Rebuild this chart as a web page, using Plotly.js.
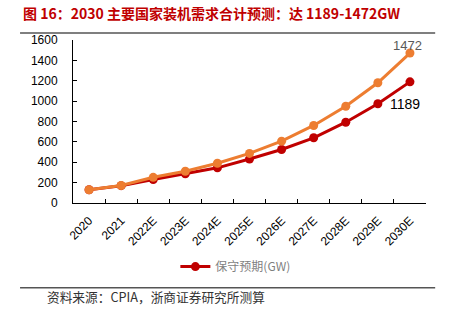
<!DOCTYPE html>
<html>
<head>
<meta charset="utf-8">
<script src="https://cdn.plot.ly/plotly-3.0.1.min.js"></script>
<style>html,body{margin:0;padding:0;background:#fff;}#chart{width:450px;height:321px;}</style>
</head>
<body>
<div id="chart"></div>
<script>
const categories = ["2020","2021","2022E","2023E","2024E","2025E","2026E","2027E","2028E","2029E","2030E"];
const optimistic = [130, 172, 252, 312, 390, 487, 607, 761, 950, 1180, 1472];
const conservative = [130, 170, 230, 287, 345, 432, 525, 640, 793, 974, 1189];
const conservativeName = "保守预期(GW)";
const titleText = "图 16：2030 主要国家装机需求合计预测：达 1189-1472GW";
const sourceText = "资料来源：CPIA，浙商证券研究所测算";

const last = categories.length - 1;

const traces = [
  {
    x: categories, y: conservative, name: conservativeName, type: "scatter", mode: "lines+markers",
    line: {color: "#C00000", width: 3}, marker: {color: "#C00000", size: 9},
    showlegend: true, cliponaxis: false
  },
  {
    x: categories, y: optimistic, name: "乐观预期(GW)", type: "scatter", mode: "lines+markers",
    line: {color: "#ED7D31", width: 3}, marker: {color: "#ED7D31", size: 9},
    showlegend: false, cliponaxis: false
  }
];

const layout = {
  width: 450, height: 321,
  margin: {l: 73, r: 24, t: 40, b: 118},
  paper_bgcolor: "#fff", plot_bgcolor: "#fff",
  showlegend: true,
  legend: {
    orientation: "h", x: 0.29, xanchor: "left", y: -0.39, yanchor: "middle",
    font: {family: "Noto Sans CJK SC, sans-serif", size: 12, color: "#7f7f7f"},
    bgcolor: "rgba(0,0,0,0)"
  },
  xaxis: {
    type: "category", showgrid: false, zeroline: false,
    showline: true, linecolor: "#000", linewidth: 1,
    ticks: "inside", ticklen: 4, tickcolor: "#000", tickson: "boundaries",
    tickangle: -45, ticklabelstandoff: 5,
    tickfont: {family: "Liberation Sans, Arial, sans-serif", size: 12, color: "#000"},
    range: [-0.5, last + 0.5]
  },
  yaxis: {
    range: [0, 1600], dtick: 200, showgrid: false, zeroline: false,
    showline: true, linecolor: "#000", linewidth: 1,
    ticks: "inside", ticklen: 4, tickcolor: "#000", ticklabelstandoff: 12,
    tickfont: {family: "Liberation Sans, Arial, sans-serif", size: 12, color: "#000"}
  },
  annotations: [
    {xref: "paper", yref: "paper", x: -0.148, y: 1.168, xanchor: "left", yanchor: "middle",
     text: "<b>" + titleText + "</b>", showarrow: false,
     font: {family: "Noto Sans CJK SC, sans-serif", size: 14, color: "#C00000"}},
    {xref: "paper", yref: "paper", x: -0.078, y: -0.575, xanchor: "left", yanchor: "middle",
     text: sourceText, showarrow: false,
     font: {family: "Noto Sans CJK SC, sans-serif", size: 12.7, color: "#333"}},
    {x: categories[last], y: optimistic[last], xref: "x", yref: "y",
     text: String(optimistic[last]), showarrow: false,
     xanchor: "center", yanchor: "middle", xshift: -2, yshift: 8,
     font: {family: "Liberation Sans, Arial, sans-serif", size: 13, color: "#595959"}},
    {x: categories[last], y: conservative[last], xref: "x", yref: "y",
     text: String(conservative[last]), showarrow: false,
     xanchor: "center", yanchor: "middle", xshift: -5, yshift: -22,
     font: {family: "Liberation Sans, Arial, sans-serif", size: 14, color: "#000"}}
  ],
  shapes: [
    {type: "line", xref: "paper", yref: "paper", x0: -0.15, x1: 1.026, y0: 1.043, y1: 1.043,
     line: {color: "#555", width: 1.5}},
    {type: "line", xref: "paper", yref: "paper", x0: -0.15, x1: 1.026, y0: -0.52, y1: -0.52,
     line: {color: "#555", width: 1.5}}
  ]
};

Plotly.newPlot("chart", traces, layout, {displayModeBar: false, staticPlot: true});
</script>
</body>
</html>
